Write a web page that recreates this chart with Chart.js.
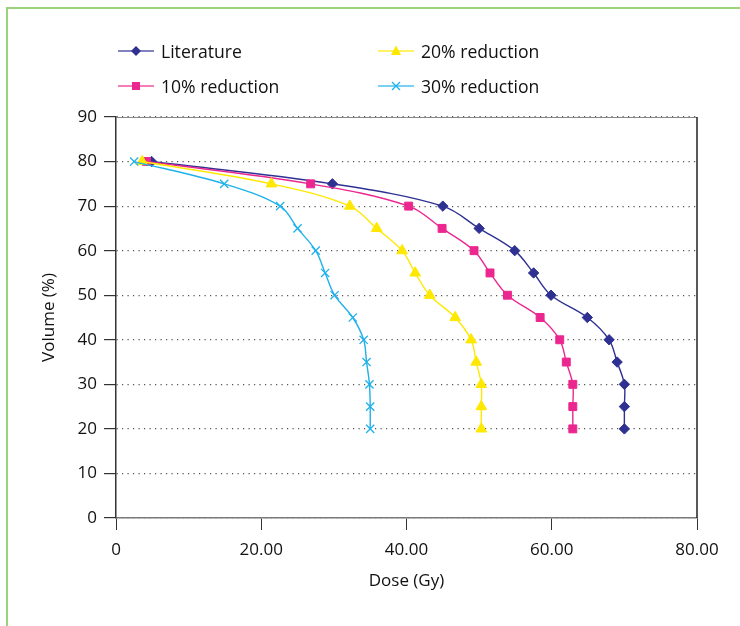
<!DOCTYPE html>
<html>
<head>
<meta charset="utf-8">
<script src="https://cdn.jsdelivr.net/npm/chart.js@4/dist/chart.umd.min.js"></script>
<style>
    body { margin: 0; background: #fff; font-family: "Open Sans", sans-serif; }
    #wrap { position: relative; width: 740px; height: 626px; overflow: hidden; }
    #frame { position: absolute; left: 6px; top: 7px; width: 800px; height: 700px;
             border-left: 2px solid #9bd27c; border-top: 2px solid #9bd27c; }
    #chart { position: absolute; left: 0; top: 0; }
    .legend-item { position: absolute; display: flex; align-items: center; height: 22px;
                   font-size: 17.6px; color: #111; white-space: nowrap; }
    .legend-item svg { margin-right: 7px; }
</style>
</head>
<body>
<div id="wrap">
    <div id="frame"></div>
    <canvas id="chart" width="740" height="626"></canvas>
    <div id="legend"></div>
</div>
<script>
// volume levels (%) shared by all series
const volume = [80, 75, 70, 65, 60, 55, 50, 45, 40, 35, 30, 25, 20];

// dose (Gy), one per volume level
const doseLiterature = [4.9, 29.8, 45.0, 50.0, 54.9, 57.5, 59.9, 64.9, 67.9, 69.0, 70.0, 70.0, 70.0];
const dose10 = [4.2, 26.8, 40.3, 44.9, 49.3, 51.5, 53.9, 58.4, 61.1, 62.0, 62.9, 62.9, 62.9];
const dose20 = [3.6, 21.4, 32.2, 35.9, 39.4, 41.2, 43.2, 46.7, 48.9, 49.6, 50.3, 50.3, 50.3];
const dose30 = [2.5, 14.9, 22.6, 25.0, 27.5, 28.8, 30.1, 32.6, 34.1, 34.5, 34.9, 35.0, 35.0];

const seriesNames = ['Literature', '10% reduction', '20% reduction', '30% reduction'];
const seriesDose = [doseLiterature, dose10, dose20, dose30];
const seriesColors = ['#2e3192', '#ec268f', '#ffe800', '#1fb1ea'];
const seriesMarkers = ['rectRot', 'rect', 'triangle', 'crossRot'];
const markerRadius = [5.2, 5.6, 6.2, 5.8];

const xTickLabels = ['0', '20.00', '40.00', '60.00', '80.00'];

const font = { family: '"Open Sans", sans-serif', size: 17 };

// legend (two columns, built from the series arrays)
const markerSvg = {
    rectRot: c => `<polygon points="18,2 23,7 18,12 13,7" fill="${c}"/>`,
    rect: c => `<rect x="14" y="3" width="8" height="8" fill="${c}"/>`,
    triangle: c => `<polygon points="18,1.5 23,11 13,11" fill="${c}"/>`,
    crossRot: c => `<path d="M14 3 L22 11 M22 3 L14 11" stroke="${c}" stroke-width="1.3"/>`
};
const legendEl = document.getElementById('legend');
seriesNames.forEach((name, i) => {
    const col = Math.floor(i / 2);
    const row = i % 2;
    const div = document.createElement('div');
    div.className = 'legend-item';
    div.style.left = (118 + col * 260) + 'px';
    div.style.top = (40 + row * 35) + 'px';
    div.innerHTML = `<svg width="36" height="14"><line x1="0" y1="7" x2="36" y2="7" stroke="${seriesColors[i]}" stroke-width="1.3" opacity="0.8"/>${markerSvg[seriesMarkers[i]](seriesColors[i])}</svg><span>${name}</span>`;
    legendEl.appendChild(div);
});

// right and top edge of the plot box
const boxPlugin = {
    id: 'box',
    beforeDatasetsDraw(chart) {
        const { ctx, chartArea: a } = chart;
        ctx.save();
        ctx.strokeStyle = '#888';
        ctx.lineWidth = 1;
        ctx.beginPath();
        ctx.moveTo(a.left, a.top + 0.5);
        ctx.lineTo(a.right, a.top + 0.5);
        ctx.stroke();
        ctx.strokeStyle = '#222';
        ctx.lineWidth = 1.5;
        ctx.beginPath();
        ctx.moveTo(a.right, a.top);
        ctx.lineTo(a.right, a.bottom);
        ctx.stroke();
        ctx.restore();
    }
};

const datasets = seriesNames.map((name, i) => ({
    label: name,
    data: volume.map((v, j) => ({ x: seriesDose[i][j], y: v })),
    showLine: true,
    borderColor: seriesColors[i],
    backgroundColor: seriesColors[i],
    borderWidth: 1.4,
    tension: 0.35,
    pointStyle: seriesMarkers[i],
    pointRadius: markerRadius[i],
    pointBorderWidth: seriesMarkers[i] === 'crossRot' ? 1.3 : 1,
    pointBorderColor: seriesColors[i],
    pointBackgroundColor: seriesColors[i],
    order: seriesNames.length - i
}));

new Chart(document.getElementById('chart'), {
    type: 'scatter',
    data: { datasets },
    options: {
        responsive: false,
        animation: false,
        layout: { padding: { top: 117, right: 43, left: 0, bottom: 0 } },
        plugins: {
            legend: { display: false },
            tooltip: { enabled: false }
        },
        scales: {
            x: {
                type: 'linear',
                min: 0,
                max: 80,
                afterFit: s => { s.height = 108; },
                afterBuildTicks: s => { s.ticks = xTickLabels.map((t, i) => ({ value: i * 20 })); },
                ticks: {
                    font, color: '#111', padding: 10, maxRotation: 0,
                    callback: (v, i) => xTickLabels[i]
                },
                grid: { drawOnChartArea: false, drawTicks: true, tickLength: 12, tickColor: '#333' },
                border: { color: '#7a7a7a', width: 1.5 },
                title: { display: true, text: 'Dose (Gy)', font, color: '#111', padding: { top: 0, bottom: 35 } }
            },
            y: {
                min: 0,
                max: 90,
                afterFit: s => { s.width = 116; },
                ticks: { stepSize: 10, font, color: '#111', padding: 7 },
                grid: { color: '#555', lineWidth: 1.2, tickLength: 12, tickColor: '#333', tickBorderDash: [] },
                border: { color: '#333', width: 1.5, dash: [1.2, 4.3] },
                title: { display: true, text: 'Volume (%)', font, color: '#111', padding: { top: 39, bottom: 0 } }
            }
        }
    },
    plugins: [boxPlugin]
});
</script>
</body>
</html>
